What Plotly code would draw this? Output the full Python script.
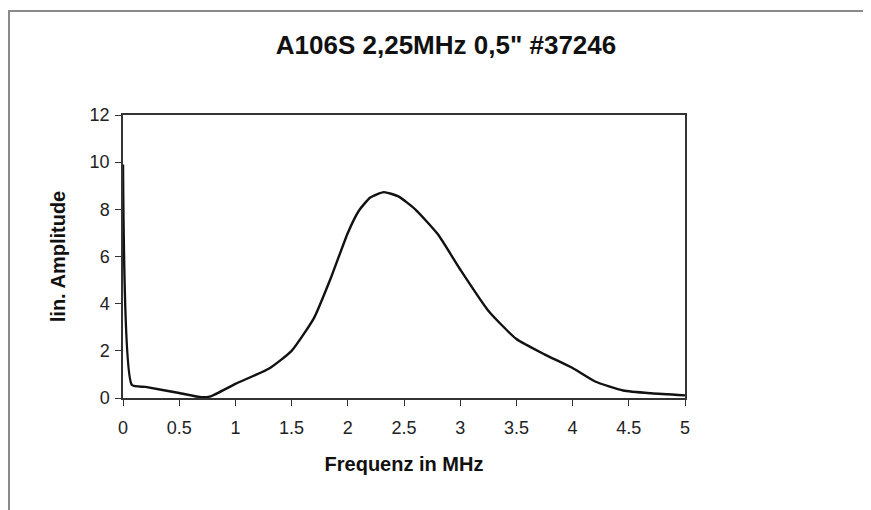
import plotly.graph_objects as go

title_text = "A106S 2,25MHz 0,5\" #37246"
x_label = "Frequenz in MHz"
y_label = "lin. Amplitude"

freq_mhz = [0, 0.08, 0.2, 0.5, 0.7, 0.78, 1.0, 1.3, 1.5, 1.7, 1.85, 2.0, 2.1, 2.2,
            2.32, 2.45, 2.6, 2.8, 3.0, 3.25, 3.5, 3.75, 4.0, 4.2, 4.45, 4.7, 5.0]
amplitude = [9.9, 0.55, 0.47, 0.21, 0.03, 0.07, 0.6, 1.25, 2.0, 3.4, 5.1, 7.0, 7.95, 8.5,
             8.73, 8.55, 8.0, 6.95, 5.45, 3.7, 2.5, 1.85, 1.27, 0.7, 0.32, 0.2, 0.11]

x_ticks = [0, 0.5, 1, 1.5, 2, 2.5, 3, 3.5, 4, 4.5, 5]
x_ticklabels = ["0", "0.5", "1", "1.5", "2", "2.5", "3", "3.5", "4", "4.5", "5"]
y_ticks = [0, 2, 4, 6, 8, 10, 12]

font_family = "Liberation Sans, Arial, sans-serif"

# page body has an 8px default margin, so the figure is sized to fit the window
W, H = 863, 502
ML, MR, MT, MB = 115, 186, 107, 112
PW, PH = W - ML - MR, H - MT - MB

fig = go.Figure()
fig.add_trace(go.Scatter(
    x=freq_mhz, y=amplitude, mode="lines",
    line=dict(color="#111111", width=2.4, shape="spline", smoothing=0.5),
    showlegend=False, hoverinfo="x+y",
))

fig.update_layout(
    width=W, height=H,
    paper_bgcolor="white", plot_bgcolor="white",
    margin=dict(l=ML, r=MR, t=MT, b=MB),
    title=dict(text="<b>" + title_text + "</b>", x=438 / W, xanchor="center",
               xref="container", y=1 - 37 / H, yanchor="middle",
               font=dict(family=font_family, size=26, color="#111111")),
    font=dict(family=font_family, color="#222222"),
)

fig.update_xaxes(
    range=[0, 5], tickvals=x_ticks, ticktext=x_ticklabels,
    ticks="outside", ticklen=6, tickcolor="#333333", tickwidth=1,
    ticklabelstandoff=7,
    showline=True, linecolor="#333333", linewidth=1.5, mirror=True,
    showgrid=False, zeroline=False,
    tickfont=dict(size=18, color="#222222"),
    title=dict(text="<b>" + x_label + "</b>", font=dict(size=20, color="#111111"), standoff=20),
)
fig.update_yaxes(
    range=[0, 12], tickvals=y_ticks,
    ticks="outside", ticklen=6, tickcolor="#333333", tickwidth=1,
    ticklabelstandoff=2,
    showline=True, linecolor="#333333", linewidth=1.5, mirror=True,
    showgrid=False, zeroline=False,
    tickfont=dict(size=18, color="#222222"),
    title=dict(text="<b>" + y_label + "</b>", font=dict(size=20, color="#111111"), standoff=19),
)

# outer chart frame (top and left edges visible in the scan)
top_y = 1 + (MT - 3) / PH
left_x = -ML / PW
fig.add_shape(type="line", xref="paper", yref="paper",
              x0=left_x, x1=1 + MR / PW, y0=top_y, y1=top_y,
              line=dict(color="#8a8a8a", width=2))
fig.add_shape(type="line", xref="paper", yref="paper",
              x0=left_x + 1 / PW, x1=left_x + 1 / PW, y0=top_y, y1=-MB / PH,
              line=dict(color="#8a8a8a", width=2))

fig.write_html("out.html")
